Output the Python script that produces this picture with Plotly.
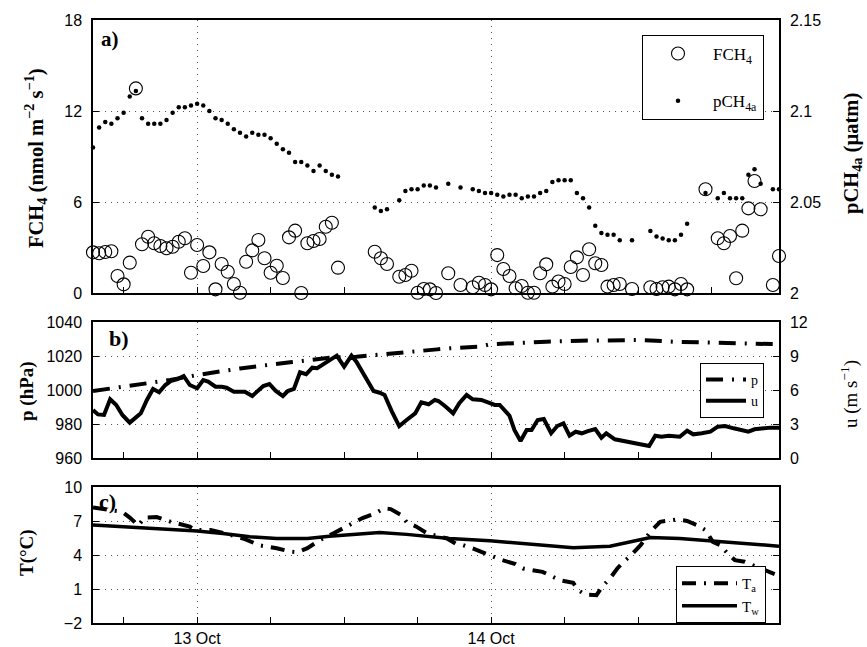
import pandas as pd
import plotly.graph_objects as go

# ---------------- data ----------------
# time: hours since 12 Oct 00:00
t_flux_h = [15.5, 16.0, 16.5, 17.0, 17.5, 18.0, 18.5, 19.0, 19.5, 20.0, 20.5, 21.0, 21.5, 22.0,
            22.5, 23.0, 23.5, 24.0, 24.5, 25.0, 25.5, 26.0, 26.5, 27.0, 27.5, 28.0, 28.5, 29.0,
            29.5, 30.0, 30.5, 31.0, 31.5, 32.0, 32.5, 33.0, 33.5, 34.0, 34.5, 35.0, 35.5,
            38.5, 39.0, 39.5,
            40.5, 41.0, 41.5, 42.0, 42.5, 43.0, 43.5,
            44.5, 45.5,
            46.5, 47.0, 47.5, 48.0, 48.5, 49.0, 49.5, 50.0, 50.5, 51.0, 51.5, 52.0, 52.5, 53.0,
            53.5, 54.0, 54.5, 55.0, 55.5, 56.0, 56.5, 57.0, 57.5, 58.0, 58.5,
            59.5,
            61.0, 61.5, 62.0, 62.5, 63.0, 63.5, 64.0,
            65.5,
            66.5, 67.0, 67.5, 68.0, 68.5, 69.0, 69.5, 70.0,
            71.0, 71.5]
fch4 = [2.68, 2.62, 2.70, 2.75, 1.12, 0.57, 2.00, 13.49, 3.21, 3.71, 3.28, 3.10, 2.95, 3.05,
        3.38, 3.61, 1.34, 3.16, 1.78, 2.68, 0.24, 1.91, 1.40, 0.59, 0.02, 2.06, 2.81, 3.49,
        2.29, 1.34, 1.80, 0.99, 3.67, 4.11, 0.00, 3.28, 3.43, 3.56, 4.37, 4.63, 1.67,
        2.72, 2.29, 1.91,
        1.07, 1.19, 1.47, 0.02, 0.26, 0.24, 0.00,
        1.30, 0.53,
        0.38, 0.68, 0.53, 0.24, 2.50, 1.58, 1.12, 0.31, 0.46, 0.02, 0.02, 1.30, 1.89, 0.42,
        0.76, 0.59, 1.71, 2.35, 1.19, 2.88, 1.96, 1.85, 0.42, 0.53, 0.59,
        0.26,
        0.38, 0.26, 0.38, 0.42, 0.24, 0.59, 0.24,
        6.84,
        3.61, 3.28, 3.76, 0.97, 4.11, 5.58, 7.38, 5.52,
        0.53, 2.44]
pch4a = [2.080, 2.091, 2.094, 2.093, 2.096, 2.099, 2.108, 2.111, 2.096, 2.093, 2.093, 2.093,
         2.095, 2.099, 2.102, 2.102, 2.103, 2.104, 2.103, 2.100, 2.096, 2.095, 2.093, 2.090,
         2.088, 2.086, 2.088, 2.087, 2.087, 2.085, 2.082, 2.079, 2.077, 2.072, 2.072, 2.070,
         2.067, 2.070, 2.067, 2.065, 2.064,
         2.047, 2.045, 2.046,
         2.051, 2.056, 2.057, 2.057, 2.059, 2.059, 2.058,
         2.060, 2.058,
         2.057, 2.056, 2.055, 2.055, 2.054, 2.053, 2.054, 2.054, 2.052, 2.053, 2.053, 2.055,
         2.056, 2.061, 2.062, 2.062, 2.062, 2.055, 2.052, 2.047, 2.037, 2.033, 2.032, 2.032,
         2.029,
         2.029,
         2.034, 2.031, 2.030, 2.029, 2.029, 2.032, 2.038,
         2.055,
         2.052, 2.055, 2.052, 2.052, 2.052, 2.065, 2.068, 2.060,
         2.057, 2.057]

t_p_h = [15.5, 18.0, 21.8, 24.0, 27.5, 31.6, 34.8, 37.0, 39.7, 43.6, 44.6, 47.1, 47.9,
         50.4, 52.5, 55.3, 57.7, 60.2, 62.9, 65.6, 68.0, 70.8, 71.5]
p_hpa = [999.4, 1002.0, 1005.9, 1008.8, 1012.7, 1016.3, 1019.0, 1019.6, 1021.6, 1023.9,
         1024.5, 1025.5, 1026.9, 1028.0, 1028.4, 1029.0, 1029.4, 1029.4, 1028.4, 1027.8,
         1027.5, 1026.9, 1026.9]

t_u_h = [15.5, 15.9, 16.4, 16.9, 17.4, 17.9, 18.5, 18.9, 19.4, 19.9, 20.4, 20.9, 21.4, 21.9,
         22.4, 22.9, 23.4, 24.0, 24.5, 24.9, 25.5, 26.0, 26.4, 27.0, 27.5, 27.9, 28.5, 28.9,
         29.4, 29.9, 30.4, 31.0, 31.4, 31.9, 32.4, 32.9, 33.4, 33.8, 34.3, 34.8, 35.4, 36.0,
         36.6, 37.0, 37.8, 38.4, 38.9, 39.3, 39.9, 40.5, 41.1, 41.8, 42.3, 42.9, 43.4, 43.7,
         44.3, 44.9, 45.4, 46.0, 46.5, 47.2, 47.8, 48.3, 48.7, 49.5, 49.9, 50.4, 50.9, 51.3,
         51.8, 52.3, 52.9, 53.4, 53.9, 54.4, 54.9, 55.4, 55.9, 56.5, 57.0, 57.4, 58.1, 58.8,
         59.5, 60.2, 60.9, 61.4, 61.9, 62.5, 63.4, 64.0, 64.5, 65.2, 65.9, 66.5, 67.1, 67.8,
         68.5, 69.0, 69.5, 70.1, 70.8, 71.5]
u_ms = [4.24, 3.85, 3.80, 5.18, 4.68, 3.80, 3.12, 3.50, 3.94, 5.12, 6.09, 5.80, 6.44, 6.82,
        6.97, 7.24, 6.44, 6.15, 6.88, 6.74, 6.29, 6.29, 6.20, 5.85, 5.85, 5.85, 5.47, 5.85,
        6.35, 6.53, 5.94, 5.47, 5.91, 6.09, 7.56, 7.39, 7.97, 7.92, 8.27, 8.65, 9.03, 8.06,
        9.03, 8.50, 7.03, 5.91, 5.76, 5.56, 4.09, 2.82, 3.35, 3.94, 4.92, 4.74, 5.12, 5.03,
        4.53, 3.94, 4.83, 5.56, 5.18, 5.12, 4.88, 4.68, 4.68, 3.73, 2.47, 1.50, 2.47, 2.47,
        3.35, 3.44, 2.18, 2.82, 3.06, 1.97, 2.32, 2.18, 2.38, 2.56, 1.79, 2.18, 1.65, 1.50,
        1.35, 1.21, 1.06, 1.97, 1.88, 1.97, 1.88, 2.41, 2.09, 2.18, 2.32, 2.76, 2.82, 2.62,
        2.47, 2.32, 2.53, 2.62, 2.68, 2.68]

t_ta_h = [15.5, 16.5, 17.9, 18.5, 19.2, 19.7, 20.7, 21.8, 23.4, 23.9, 25.1, 26.3, 27.9, 29.1,
          30.5, 31.6, 32.2, 33.0, 34.0, 35.1, 36.2, 37.5, 38.6, 39.2, 39.8, 40.7, 41.1, 41.9,
          42.8, 44.4, 45.1, 45.7, 46.5, 47.5, 48.2, 48.9, 50.0, 50.6, 52.2, 53.0, 53.6, 54.7,
          55.1, 55.7, 56.6, 57.1, 57.7, 58.3, 58.8, 59.3, 60.2, 61.0, 61.8, 63.2, 64.0, 64.8,
          65.5, 66.1, 66.7, 67.3, 67.9, 68.7, 69.9, 71.4]
ta_c = [8.2, 8.0, 7.8, 7.3, 6.6, 7.3, 7.35, 6.95, 6.5, 6.2, 6.2, 5.9, 5.4, 4.85,
        4.6, 4.3, 4.25, 4.6, 5.3, 5.9, 6.5, 7.26, 7.7, 8.1, 8.05, 7.5, 6.9, 6.5,
        5.9, 5.46, 5.0, 4.87, 4.58, 4.14, 3.84, 3.55, 3.19, 2.81, 2.51, 2.07, 1.78, 1.54,
        0.9, 0.5, 0.45, 1.25, 1.93, 2.81, 3.4, 3.84, 4.87, 6.05, 6.93, 7.14, 7.0, 6.64,
        6.2, 5.16, 4.87, 4.14, 3.55, 3.4, 2.9, 2.2]

t_tw_h = [15.5, 19.3, 24.0, 26.1, 28.3, 30.5, 33.0, 34.8, 37.0, 38.9, 41.1, 43.3, 44.6, 47.9,
          51.2, 54.7, 57.7, 59.3, 61.0, 63.4, 66.4, 69.1, 71.5]
tw_c = [6.64, 6.40, 6.11, 5.90, 5.61, 5.46, 5.46, 5.66, 5.84, 5.99, 5.82, 5.61, 5.46, 5.25,
        4.96, 4.63, 4.78, 5.16, 5.55, 5.46, 5.22, 5.02, 4.78]

x_range = ["2012-10-12 15:30", "2012-10-14 23:30"]
x_tickvals = ["2012-10-13", "2012-10-14"]
x_ticktext = ["13 Oct", "14 Oct"]

# ---------------- figure ----------------
T0 = pd.Timestamp("2012-10-12")


def ts(hours):
    return [T0 + pd.Timedelta(hours=h) for h in hours]


W, H = 867, 647
SANS = "Liberation Sans, Arial, Helvetica, sans-serif"
SERIF = "Liberation Serif, Times New Roman, serif"


def px(xp):
    return xp / W


def py(yp):
    return 1 - yp / H


dom_x = [px(93), px(779)]
dom_a = [py(293), py(20)]
dom_b = [py(458), py(322)]
dom_c = [py(623), py(487)]

GRID = dict(showgrid=True, gridcolor="#555", gridwidth=1, griddash="1px,5px")
AX = dict(showline=True, linecolor="black", linewidth=1.5, ticks="inside", ticklen=6,
          tickcolor="black", tickwidth=1, zeroline=False, automargin=False,
          tickfont=dict(family=SANS, size=16, color="black"))

fig = go.Figure()

fig.add_trace(go.Scatter(x=ts(t_flux_h), y=fch4, mode="markers", name="FCH<sub>4</sub>",
                         marker=dict(symbol="circle-open", size=13, color="black",
                                     line=dict(width=1.1, color="black")),
                         xaxis="x", yaxis="y", legend="legend", legendgroup="g1",
                         cliponaxis=False))
fig.add_trace(go.Scatter(x=ts(t_flux_h), y=pch4a, mode="markers", name="pCH<sub>4a</sub>",
                         marker=dict(symbol="circle", size=4.5, color="black"),
                         xaxis="x", yaxis="y2", legend="legend", legendgroup="g2",
                         cliponaxis=False))
fig.add_trace(go.Scatter(x=ts(t_p_h), y=p_hpa, mode="lines", name="p",
                         line=dict(color="black", width=4, dash="17px,9px,2px,9px"),
                         xaxis="x2", yaxis="y3", legend="legend2", legendgroup="g3"))
fig.add_trace(go.Scatter(x=ts(t_u_h), y=u_ms, mode="lines", name="u",
                         line=dict(color="black", width=4),
                         xaxis="x2", yaxis="y4", legend="legend2", legendgroup="g4"))
fig.add_trace(go.Scatter(x=ts(t_ta_h), y=ta_c, mode="lines", name="T<sub>a</sub>",
                         line=dict(color="black", width=4, dash="14px,8px,2px,8px"),
                         xaxis="x3", yaxis="y5", legend="legend3", legendgroup="g5"))
fig.add_trace(go.Scatter(x=ts(t_tw_h), y=tw_c, mode="lines", name="T<sub>w</sub>",
                         line=dict(color="black", width=3.5),
                         xaxis="x3", yaxis="y5", legend="legend3", legendgroup="g6"))

xbase = dict(AX, **GRID, type="date", range=x_range, domain=dom_x, tickmode="array",
             tickvals=x_tickvals, ticktext=x_ticktext, mirror=True,
             minor=dict(tick0="2012-10-12", dtick=6 * 3600 * 1000, ticks="inside",
                        ticklen=6, tickcolor="black", showgrid=False))

fig.update_layout(
    width=W, height=H, margin=dict(l=0, r=0, t=0, b=0),
    paper_bgcolor="white", plot_bgcolor="white",
    xaxis=dict(xbase, anchor="y", showticklabels=False),
    xaxis2=dict(xbase, anchor="y3", showticklabels=False, matches="x"),
    xaxis3=dict(xbase, anchor="y5", showticklabels=True, matches="x"),
    yaxis=dict(AX, **GRID, domain=dom_a, range=[0, 18], tickvals=[0, 6, 12, 18],
               anchor="x", mirror=True, ticklabelstandoff=6),
    yaxis2=dict(AX, domain=dom_a, range=[2, 2.15], tickvals=[2, 2.05, 2.1, 2.15],
                ticktext=["2", "2.05", "2.1", "2.15"], overlaying="y", side="right",
                anchor="x", showgrid=False, ticklabelstandoff=6),
    yaxis3=dict(AX, **GRID, domain=dom_b, range=[960, 1040],
                tickvals=[960, 980, 1000, 1020, 1040], anchor="x2", mirror=True,
                ticklabelstandoff=6),
    yaxis4=dict(AX, domain=dom_b, range=[0, 12], tickvals=[0, 3, 6, 9, 12],
                overlaying="y3", side="right", anchor="x2", showgrid=False,
                ticklabelstandoff=6),
    yaxis5=dict(AX, **GRID, domain=dom_c, range=[-2, 10], tickvals=[-2, 1, 4, 7, 10],
                anchor="x3", mirror="ticks", ticklabelstandoff=6),
    legend=dict(x=px(764), y=py(35), xanchor="right", yanchor="top", bgcolor="white",
                bordercolor="black", borderwidth=1, tracegroupgap=22, itemwidth=60,
                font=dict(family=SERIF, size=17, color="black")),
    legend2=dict(x=px(764), y=py(363), xanchor="right", yanchor="top", bgcolor="white",
                 bordercolor="black", borderwidth=1, tracegroupgap=0, itemwidth=40,
                 font=dict(family=SERIF, size=14, color="black")),
    legend3=dict(x=px(766), y=py(566), xanchor="right", yanchor="top", bgcolor="white",
                 bordercolor="black", borderwidth=1, tracegroupgap=0, itemwidth=55,
                 font=dict(family=SERIF, size=15, color="black")),
    showlegend=True,
)

TS_BIG = 20.5
TS = 19
CM = dict(xanchor="center", yanchor="middle", textangle=-90)
annotations = [
    dict(CM, text="<b>FCH<sub>4</sub> (nmol m<sup>−2</sup> s<sup>−1</sup>)</b>", x=px(35),
         y=py(158), font=dict(family=SERIF, size=TS_BIG, color="black")),
    dict(CM, text="<b>pCH<sub>4a</sub> (µatm)</b>", x=px(852), y=py(154),
         font=dict(family=SERIF, size=TS_BIG, color="black")),
    dict(CM, text="<b>p (hPa)</b>", x=px(27), y=py(391),
         font=dict(family=SERIF, size=TS, color="black")),
    dict(CM, text="u (m s<sup>−1</sup>)", x=px(849), y=py(394),
         font=dict(family=SERIF, size=TS, color="black")),
    dict(CM, text="<b>T(°C)</b>", x=px(27), y=py(553),
         font=dict(family=SERIF, size=TS, color="black")),
    dict(text="<b>a)</b>", x=px(99), y=py(25), xanchor="left", yanchor="top",
         font=dict(family=SERIF, size=21, color="black")),
    dict(text="<b>b)</b>", x=px(107), y=py(324), xanchor="left", yanchor="top",
         font=dict(family=SERIF, size=22, color="black")),
    dict(text="<b>c)</b>", x=px(97), y=py(487), xanchor="left", yanchor="top",
         font=dict(family=SERIF, size=22, color="black")),
]
for a in annotations:
    a.setdefault("xref", "paper")
    a.setdefault("yref", "paper")
    a.setdefault("showarrow", False)
fig.update_layout(annotations=annotations)

fig.write_html("out.html", config={"displayModeBar": False},
               post_script="document.body.style.margin='0';document.body.style.padding='0';")
